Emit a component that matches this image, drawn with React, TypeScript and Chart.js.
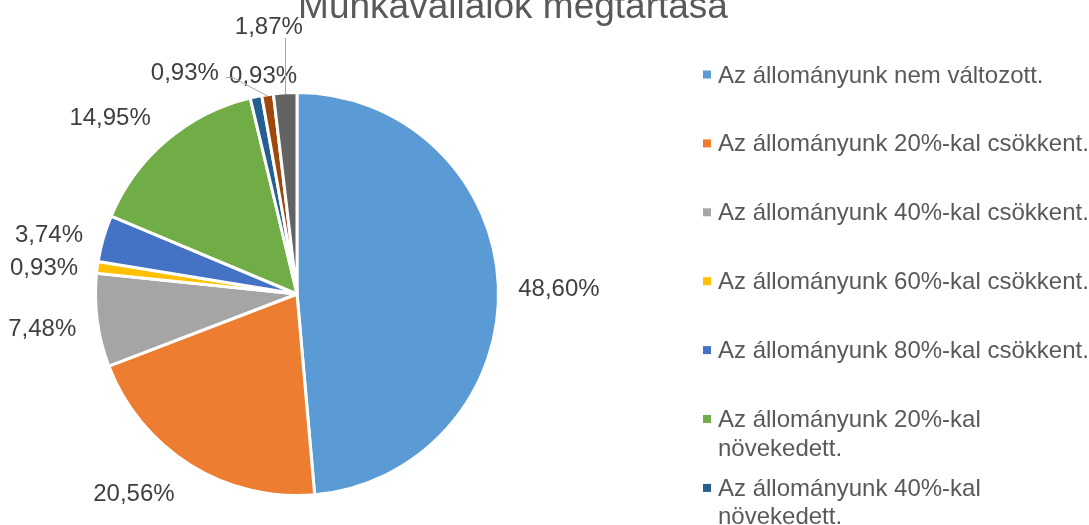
import React, { useEffect, useRef } from 'react';
import { Chart, registerables } from 'chart.js';

Chart.register(...registerables);

const TITLE = 'Munkavállalók megtartása';
const CATEGORIES = [
  'Az állományunk nem változott.',
  'Az állományunk 20%-kal csökkent.',
  'Az állományunk 40%-kal csökkent.',
  'Az állományunk 60%-kal csökkent.',
  'Az állományunk 80%-kal csökkent.',
  'Az állományunk 20%-kal növekedett.',
  'Az állományunk 40%-kal növekedett.',
  'Az állományunk 60%-kal növekedett.',
  'Az állományunk 80%-kal növekedett.',
];
const VALUES = [48.6, 20.56, 7.48, 0.93, 3.74, 14.95, 0.93, 0.93, 1.87];
const COLORS = ['#5B9BD5', '#ED7D31', '#A5A5A5', '#FFC000', '#4472C4', '#70AD47', '#255E91', '#9E480E', '#636363'];

// label placement (style): angle shift from slice middle (deg), distance in radii, leader type
const LABEL_SHIFT = [1, 7.5, 0, -1.3, -2.2, -6.2, 3, -18.3, -2.6];
const LABEL_DIST = [1.31, 1.2825, 1.285, 1.2725, 1.277, 1.2875, 1.113, 1.2475, 1.3525];
const LABEL_LEADER = ['', '', '', '', '', '', '', 'left', 'up'];

const FONT = '"Liberation Sans", Arial, sans-serif';

const fmt = (v: number) => v.toFixed(2).replace('.', ',') + '%';

const pieLabels = {
  id: 'pieLabels',
  afterDatasetsDraw(chart: any) {
    const ctx = chart.ctx as CanvasRenderingContext2D;
    const meta = chart.getDatasetMeta(0);
    const ds = chart.data.datasets[0];
    ctx.save();
    ctx.font = `24px ${FONT}`;
    ctx.textAlign = 'center';
    ctx.textBaseline = 'alphabetic';
    meta.data.forEach((arc: any, i: number) => {
      const p = arc.getProps(['x', 'y', 'startAngle', 'endAngle', 'outerRadius'], true);
      const r = p.outerRadius - 1.5;
      const mid = (p.startAngle + p.endAngle) / 2;
      const a = mid + (LABEL_SHIFT[i] * Math.PI) / 180;
      const lx = p.x + Math.cos(a) * r * LABEL_DIST[i];
      const ly = p.y + Math.sin(a) * r * LABEL_DIST[i];
      const text = fmt(ds.data[i]);
      const w = ctx.measureText(text).width;
      const ex = p.x + Math.cos(mid) * r;
      const ey = p.y + Math.sin(mid) * r;
      ctx.strokeStyle = '#A6A6A6';
      ctx.lineWidth = 1;
      if (LABEL_LEADER[i] === 'up') {
        ctx.beginPath();
        ctx.moveTo(Math.round(ex) + 0.5, ey);
        ctx.lineTo(Math.round(ex) + 0.5, ly + 13);
        ctx.stroke();
      } else if (LABEL_LEADER[i] === 'left') {
        ctx.beginPath();
        ctx.moveTo(ex, ey);
        ctx.lineTo(lx + w / 2 + 14, ly + 6.5);
        ctx.lineTo(lx + w / 2 + 7, ly + 6.5);
        ctx.stroke();
      }
      ctx.fillStyle = '#404040';
      ctx.fillText(text, lx, ly + 8.6);
    });
    ctx.restore();
  },
};

const titleAndLegend = {
  id: 'titleAndLegend',
  afterDraw(chart: any) {
    const ctx = chart.ctx as CanvasRenderingContext2D;
    ctx.save();
    // title
    ctx.font = `37px ${FONT}`;
    ctx.fillStyle = '#595959';
    ctx.textAlign = 'center';
    ctx.textBaseline = 'alphabetic';
    ctx.fillText(TITLE, 513, 17.5);
    // legend
    const labels: string[] = chart.data.labels;
    const colors: string[] = chart.data.datasets[0].backgroundColor;
    ctx.font = `24px ${FONT}`;
    ctx.textAlign = 'left';
    const maxW = 372;
    labels.forEach((lab, i) => {
      const cy = 74.5 + i * 68.9;
      ctx.fillStyle = colors[i];
      ctx.fillRect(703, cy - 4, 8, 8);
      const words = lab.split(' ');
      const lines: string[] = [];
      let cur = '';
      words.forEach((wd) => {
        const t = cur ? cur + ' ' + wd : wd;
        if (ctx.measureText(t).width > maxW && cur) {
          lines.push(cur);
          cur = wd;
        } else cur = t;
      });
      if (cur) lines.push(cur);
      ctx.fillStyle = '#595959';
      lines.forEach((ln, k) => ctx.fillText(ln, 718, cy + 8 + k * 28.5));
    });
    ctx.restore();
  },
};

export default function App() {
  const ref = useRef<HTMLCanvasElement | null>(null);
  useEffect(() => {
    if (!ref.current) return;
    const chart = new Chart(ref.current, {
      type: 'pie',
      data: {
        labels: CATEGORIES,
        datasets: [
          {
            data: VALUES,
            backgroundColor: COLORS,
            borderColor: '#FFFFFF',
            borderWidth: 3,
            radius: 201.5,
          } as any,
        ],
      },
      options: {
        responsive: false,
        animation: false,
        events: [],
        layout: { padding: { left: 95, right: 590, top: 92, bottom: 29 } },
        plugins: {
          legend: { display: false },
          tooltip: { enabled: false },
          title: { display: false },
        },
      },
      plugins: [pieLabels, titleAndLegend],
    });
    return () => chart.destroy();
  }, []);
  return (
    <div style={{ position: 'fixed', left: 0, top: 0, width: 1089, height: 525, background: '#fff' }}>
      <canvas ref={ref} width={1089} height={525} style={{ display: 'block', width: 1089, height: 525 }} />
    </div>
  );
}
